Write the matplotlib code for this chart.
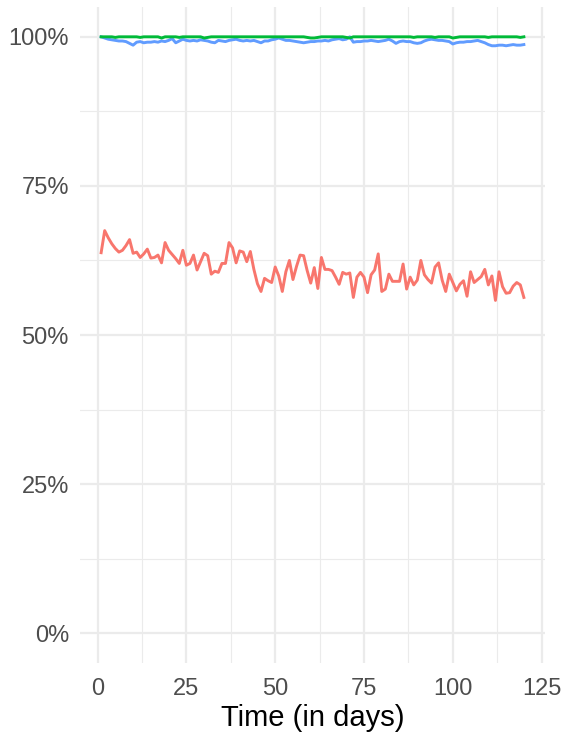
import numpy as np
import matplotlib.pyplot as plt

plt.rcParams['font.family'] = ['Liberation Sans', 'DejaVu Sans']

days = list(range(1, 121))

# share of the population in each group (percent)
red = [63.8, 67.5, 66.3, 65.3, 64.5, 63.9, 64.2, 65.0, 66.0, 63.7,
       63.9, 63.0, 63.6, 64.4, 62.9, 63.0, 63.4, 62.1, 65.5, 64.2,
       63.5, 62.8, 62.0, 64.2, 61.7, 62.0, 63.4, 60.9, 62.3, 63.7,
       63.3, 60.2, 60.7, 60.5, 62.0, 62.0, 65.5, 64.6, 62.1, 64.1,
       63.9, 62.3, 64.0, 61.0, 58.6, 57.3, 59.5, 59.1, 58.8, 61.4,
       59.9, 57.3, 60.6, 62.5, 59.3, 61.5, 63.4, 63.3, 60.8, 58.7,
       61.3, 57.8, 63.0, 61.0, 61.0, 60.8, 59.7, 58.5, 60.5, 60.2,
       60.4, 56.3, 59.7, 60.5, 59.7, 57.1, 60.1, 60.9, 63.6, 57.3,
       57.7, 60.2, 59.0, 59.0, 59.0, 61.9, 57.7, 59.7, 58.4, 59.2,
       62.5, 60.1, 59.3, 58.7, 61.4, 62.1, 59.2, 57.3, 60.2, 58.8,
       57.4, 58.5, 59.1, 56.5, 60.6, 58.8, 59.3, 59.8, 61.0, 58.4,
       59.9, 55.8, 60.6, 58.1, 57.0, 57.1, 58.2, 58.8, 58.4, 56.3]

blue = [100.0, 99.8, 99.6, 99.5, 99.4, 99.3, 99.3, 99.2, 98.9, 98.6,
        99.1, 99.2, 99.0, 99.1, 99.1, 99.2, 99.1, 99.3, 99.2, 99.4,
        99.7, 99.0, 99.3, 99.6, 99.4, 99.3, 99.4, 99.3, 99.5, 99.4,
        99.3, 99.1, 99.0, 99.4, 99.3, 99.2, 99.4, 99.5, 99.6, 99.4,
        99.3, 99.4, 99.3, 99.4, 99.2, 99.0, 99.3, 99.3, 99.5, 99.6,
        99.8, 99.6, 99.4, 99.4, 99.3, 99.2, 99.1, 99.0, 99.1, 99.2,
        99.2, 99.3, 99.3, 99.4, 99.3, 99.5, 99.6, 99.7, 99.5, 99.6,
        100.0, 99.1, 99.2, 99.2, 99.3, 99.3, 99.4, 99.3, 99.2, 99.3,
        99.4, 99.6, 99.3, 98.9, 99.2, 99.3, 99.2, 99.2, 99.0, 98.9,
        99.0, 99.3, 99.5, 99.6, 99.5, 99.4, 99.4, 99.3, 99.2, 98.8,
        99.0, 99.1, 99.1, 99.2, 99.2, 99.3, 99.4, 99.2, 99.0, 98.7,
        98.5, 98.5, 98.6, 98.6, 98.5, 98.6, 98.7, 98.6, 98.6, 98.7]

green = [100.0, 100.0, 100.0, 100.0, 99.9, 100.0, 100.0, 100.0, 100.0, 100.0,
         100.0, 99.9, 100.0, 100.0, 100.0, 100.0, 100.0, 99.8, 100.0, 100.0,
         100.0, 100.0, 99.9, 100.0, 100.0, 100.0, 100.0, 100.0, 100.0, 99.8,
         99.9, 100.0, 100.0, 100.0, 100.0, 100.0, 100.0, 100.0, 100.0, 100.0,
         100.0, 100.0, 100.0, 100.0, 100.0, 100.0, 100.0, 100.0, 100.0, 100.0,
         100.0, 100.0, 100.0, 100.0, 100.0, 100.0, 100.0, 100.0, 99.9, 99.8,
         99.8, 99.9, 100.0, 100.0, 100.0, 100.0, 100.0, 100.0, 100.0, 99.9,
         99.8, 100.0, 100.0, 100.0, 100.0, 100.0, 100.0, 100.0, 100.0, 100.0,
         100.0, 100.0, 100.0, 100.0, 100.0, 100.0, 100.0, 100.0, 99.9, 100.0,
         100.0, 100.0, 100.0, 100.0, 99.9, 100.0, 100.0, 100.0, 100.0, 99.8,
         99.9, 100.0, 100.0, 100.0, 100.0, 100.0, 100.0, 100.0, 100.0, 99.9,
         100.0, 100.0, 100.0, 100.0, 100.0, 100.0, 100.0, 100.0, 99.9, 100.0]

x_ticks = [0, 25, 50, 75, 100, 125]
y_ticks = [0, 25, 50, 75, 100]

fig = plt.figure(figsize=(5.65, 7.34), dpi=100)
ax = fig.add_axes([80 / 565, 71 / 734, 465 / 565, 656 / 734])

# minor and major grid, ggplot minimal style
for v in [12.5, 37.5, 62.5, 87.5, 112.5]:
    ax.axvline(v, color='#EBEBEB', lw=0.8, zorder=0)
for v in [12.5, 37.5, 62.5, 87.5]:
    ax.axhline(v, color='#EBEBEB', lw=0.8, zorder=0)
for v in x_ticks:
    ax.axvline(v, color='#EBEBEB', lw=1.6, zorder=0)
for v in y_ticks:
    ax.axhline(v, color='#EBEBEB', lw=1.6, zorder=0)

ax.plot(days, red, color='#F8766D', lw=2.1)
ax.plot(days, blue, color='#619CFF', lw=2.1)
ax.plot(days, green, color='#00BA38', lw=2.1)

ax.set_xlim(1 - 0.05 * 119, 120 + 0.05 * 119)
ax.set_ylim(-5, 105)
ax.set_xticks(x_ticks)
ax.set_yticks(y_ticks)
ax.set_yticklabels([f'{v}%' for v in y_ticks])
ax.tick_params(length=0, labelsize=17, labelcolor='#4D4D4D')
ax.tick_params(axis='x', pad=10.5)
ax.tick_params(axis='y', pad=8)
for s in ax.spines.values():
    s.set_visible(False)
ax.set_xlabel('Time (in days)', fontsize=21, labelpad=3)

fig.savefig('out.png', dpi=100)
